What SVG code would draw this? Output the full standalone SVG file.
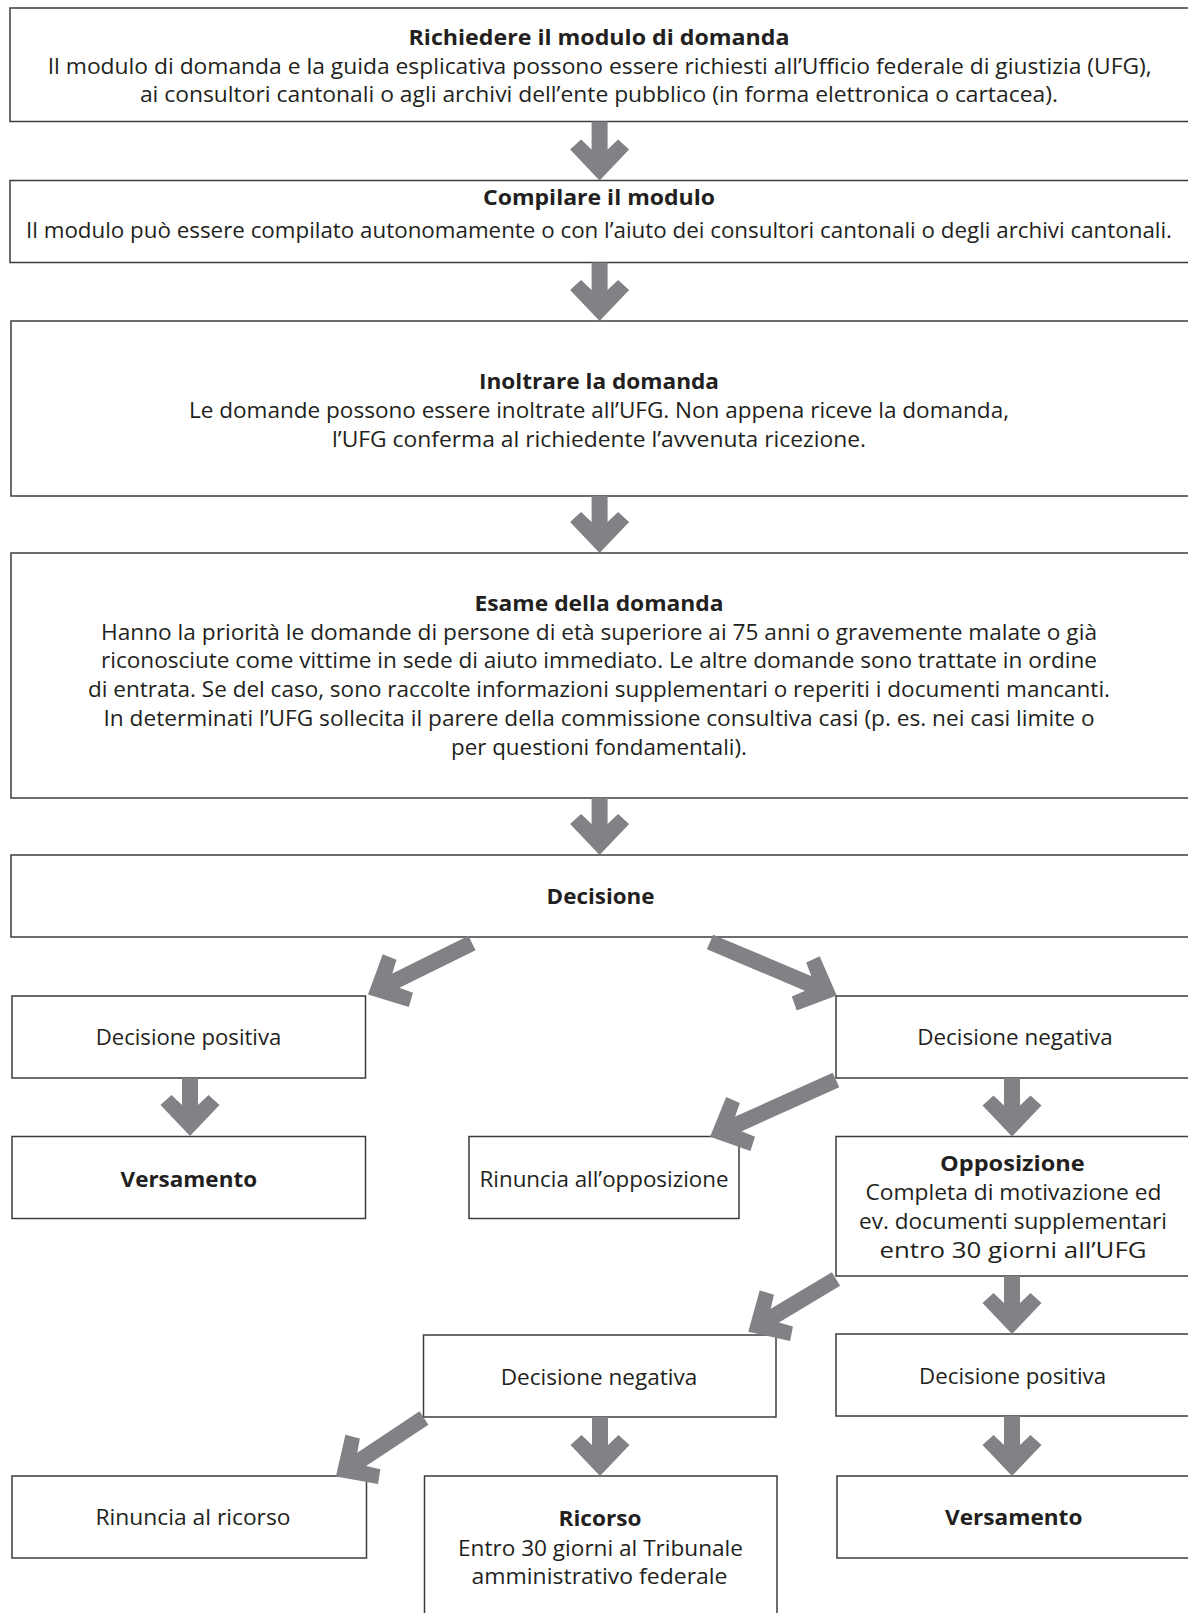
<svg xmlns="http://www.w3.org/2000/svg" width="1188" height="1613" viewBox="0 0 1188 1613">
<style>
  .box { fill: #ffffff; stroke: #3c3c3c; stroke-width: 1.5; }
  .t { font-family: "Open Sans", "Noto Sans", "Liberation Sans", sans-serif; fill: #231f20; text-anchor: middle; }
  .b { font-weight: bold; font-size: 21.5px; }
  .r { font-size: 21.5px; }
  .s { font-size: 22px; }
  .sb { font-size: 22px; font-weight: bold; }
  .arr { stroke: #808285; stroke-width: 16; stroke-linecap: butt; fill: none; marker-end: url(#ah); }
</style>
<defs>
  <marker id="ah" markerUnits="userSpaceOnUse" markerWidth="90" markerHeight="90" refX="0" refY="0" orient="auto" overflow="visible">
    <path d="M30,0 L-1,-29.5 L-11,-18.5 L-1,-8 L-1,8 L-11,18.5 L-1,29.5 Z" fill="#808285"/>
  </marker>
</defs>
<rect x="0" y="0" width="1188" height="1613" fill="#ffffff"/>

<g id="n1">
  <rect class="box" x="10" y="8" width="1200" height="113.5"/>
  <text class="t b" x="599" y="45" textLength="381" lengthAdjust="spacingAndGlyphs">Richiedere il modulo di domanda</text>
  <text class="t r" x="599.7" y="74" textLength="1104" lengthAdjust="spacingAndGlyphs">Il modulo di domanda e la guida esplicativa possono essere richiesti all’Ufficio federale di giustizia (UFG),</text>
  <text class="t r" x="598.9" y="102" textLength="918" lengthAdjust="spacingAndGlyphs">ai consultori cantonali o agli archivi dell’ente pubblico (in forma elettronica o cartacea).</text>
</g>
<g id="n2">
  <rect class="box" x="10" y="180.5" width="1200" height="82"/>
  <text class="t b" x="599" y="205" textLength="232" lengthAdjust="spacingAndGlyphs">Compilare il modulo</text>
  <text class="t r" x="599" y="237.5" textLength="1146" lengthAdjust="spacingAndGlyphs">Il modulo può essere compilato autonomamente o con l’aiuto dei consultori cantonali o degli archivi cantonali.</text>
</g>
<g id="n3">
  <rect class="box" x="11" y="321" width="1200" height="175"/>
  <text class="t b" x="599" y="388.5" textLength="240" lengthAdjust="spacingAndGlyphs">Inoltrare la domanda</text>
  <text class="t r" x="599" y="418" textLength="820" lengthAdjust="spacingAndGlyphs">Le domande possono essere inoltrate all’UFG. Non appena riceve la domanda,</text>
  <text class="t r" x="599" y="446.5" textLength="534" lengthAdjust="spacingAndGlyphs">l’UFG conferma al richiedente l’avvenuta ricezione.</text>
</g>
<g id="n4">
  <rect class="box" x="11" y="553" width="1200" height="245"/>
  <text class="t b" x="599" y="610.6" textLength="249" lengthAdjust="spacingAndGlyphs">Esame della domanda</text>
  <text class="t r" x="599" y="639.5" textLength="996" lengthAdjust="spacingAndGlyphs">Hanno la priorità le domande di persone di età superiore ai 75 anni o gravemente malate o già</text>
  <text class="t r" x="599" y="668.3" textLength="996" lengthAdjust="spacingAndGlyphs">riconosciute come vittime in sede di aiuto immediato. Le altre domande sono trattate in ordine</text>
  <text class="t r" x="599" y="697" textLength="1022" lengthAdjust="spacingAndGlyphs">di entrata. Se del caso, sono raccolte informazioni supplementari o reperiti i documenti mancanti.</text>
  <text class="t r" x="599" y="726" textLength="991" lengthAdjust="spacingAndGlyphs">In determinati l’UFG sollecita il parere della commissione consultiva casi (p. es. nei casi limite o</text>
  <text class="t r" x="599" y="755" textLength="296" lengthAdjust="spacingAndGlyphs">per questioni fondamentali).</text>
</g>
<g id="n5">
  <rect class="box" x="11" y="855" width="1200" height="82"/>
  <text class="t b" x="600.6" y="904" textLength="108" lengthAdjust="spacingAndGlyphs">Decisione</text>
</g>
<g id="n6">
  <rect class="box" x="12" y="996" width="353.5" height="82"/>
  <text class="t s" x="188.5" y="1045" textLength="185.6" lengthAdjust="spacingAndGlyphs">Decisione positiva</text>
</g>
<g id="n7">
  <rect class="box" x="836" y="996" width="400" height="82"/>
  <text class="t s" x="1015" y="1045" textLength="195.6" lengthAdjust="spacingAndGlyphs">Decisione negativa</text>
</g>
<g id="n8">
  <rect class="box" x="12" y="1136.5" width="353.5" height="82"/>
  <text class="t sb" x="188.8" y="1186.5" textLength="136.5" lengthAdjust="spacingAndGlyphs">Versamento</text>
</g>
<g id="n9">
  <rect class="box" x="469" y="1136.5" width="270" height="82"/>
  <text class="t s" x="604" y="1187" textLength="249" lengthAdjust="spacingAndGlyphs">Rinuncia all’opposizione</text>
</g>
<g id="n10">
  <rect class="box" x="836" y="1136.5" width="400" height="139.5"/>
  <text class="t sb" x="1012.4" y="1171" textLength="144.7" lengthAdjust="spacingAndGlyphs">Opposizione</text>
  <text class="t s" x="1013.5" y="1200" textLength="296" lengthAdjust="spacingAndGlyphs">Completa di motivazione ed</text>
  <text class="t s" x="1013" y="1229" textLength="308" lengthAdjust="spacingAndGlyphs">ev. documenti supplementari</text>
  <text class="t s" x="1013" y="1258" textLength="267" lengthAdjust="spacingAndGlyphs">entro 30 giorni all’UFG</text>
</g>
<g id="n11">
  <rect class="box" x="423.5" y="1335" width="352.5" height="82"/>
  <text class="t s" x="599" y="1385" textLength="196.6" lengthAdjust="spacingAndGlyphs">Decisione negativa</text>
</g>
<g id="n12">
  <rect class="box" x="836" y="1334" width="400" height="82"/>
  <text class="t s" x="1012.6" y="1384" textLength="187" lengthAdjust="spacingAndGlyphs">Decisione positiva</text>
</g>
<g id="n13">
  <rect class="box" x="12" y="1476" width="354.5" height="82"/>
  <text class="t s" x="193" y="1525" textLength="195" lengthAdjust="spacingAndGlyphs">Rinuncia al ricorso</text>
</g>
<g id="n14">
  <rect class="box" x="424.5" y="1476" width="352.5" height="170"/>
  <text class="t sb" x="600" y="1525.5" textLength="83" lengthAdjust="spacingAndGlyphs">Ricorso</text>
  <text class="t s" x="600.5" y="1555.5" textLength="285" lengthAdjust="spacingAndGlyphs">Entro 30 giorni al Tribunale</text>
  <text class="t s" x="599.5" y="1584" textLength="256" lengthAdjust="spacingAndGlyphs">amministrativo federale</text>
</g>
<g id="n15">
  <rect class="box" x="837" y="1476" width="400" height="82"/>
  <text class="t sb" x="1013.7" y="1525" textLength="137.4" lengthAdjust="spacingAndGlyphs">Versamento</text>
</g>

<g id="connectors">
  <line class="arr" x1="599.6" y1="121.5" x2="599.6" y2="150.5"/>
  <line class="arr" x1="599.6" y1="262.5" x2="599.6" y2="291"/>
  <line class="arr" x1="599.6" y1="496" x2="599.6" y2="523"/>
  <line class="arr" x1="599.6" y1="798" x2="599.6" y2="825"/>
  <line class="arr" x1="190" y1="1078" x2="190" y2="1106"/>
  <line class="arr" x1="1012" y1="1078" x2="1012" y2="1106.5"/>
  <line class="arr" x1="1012" y1="1276" x2="1012" y2="1304"/>
  <line class="arr" x1="1012" y1="1416" x2="1012" y2="1446"/>
  <line class="arr" x1="600" y1="1417" x2="600" y2="1446"/>
  <line class="arr" x1="472" y1="943" x2="394.9" y2="981.1"/>
  <line class="arr" x1="710" y1="942" x2="809.1" y2="983.8"/>
  <line class="arr" x1="836" y1="1080" x2="737.4" y2="1124.4"/>
  <line class="arr" x1="836" y1="1279" x2="774" y2="1316.2"/>
  <line class="arr" x1="424" y1="1418" x2="360.9" y2="1459.9"/>
</g>
</svg>
